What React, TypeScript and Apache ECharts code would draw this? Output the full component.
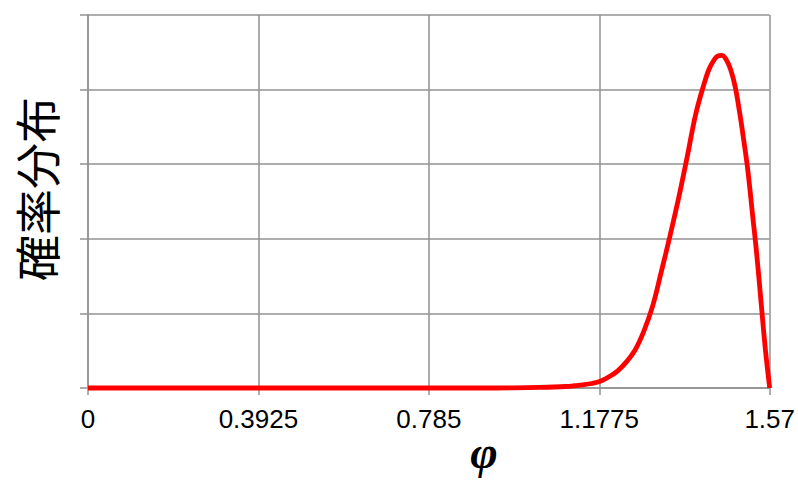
import React, { useEffect, useRef } from "react";
import * as echarts from "echarts";

const xTickLabels = ["0", "0.3925", "0.785", "1.1775", "1.57"];
const phiValues = [
  0, 0.2, 0.4, 0.6, 0.785, 0.9, 0.98, 1.04, 1.1, 1.12, 1.14, 1.16, 1.18, 1.2, 1.22, 1.24,
  1.26, 1.28, 1.3, 1.32, 1.34, 1.36, 1.38, 1.4, 1.42, 1.43, 1.44, 1.45, 1.46, 1.47, 1.48,
  1.49, 1.5, 1.51, 1.52, 1.53, 1.54, 1.55, 1.56, 1.57,
];
const probValues = [
  0, 0, 0, 0, 0, 0.0, 0.002, 0.008, 0.02, 0.03, 0.042, 0.06, 0.09, 0.15, 0.23, 0.35,
  0.51, 0.76, 1.09, 1.55, 2.03, 2.54, 3.1, 3.68, 4.1, 4.27, 4.38, 4.45, 4.46, 4.4, 4.27,
  4.05, 3.72, 3.33, 2.9, 2.35, 1.8, 1.16, 0.52, 0,
];
const yAxisTitle = "確率分布";
const xAxisTitle = "φ";

export default function App() {
  const ref = useRef<HTMLDivElement>(null);
  useEffect(() => {
    if (!ref.current) return;
    const chart = echarts.init(ref.current, null, { renderer: "svg" });
    const gray = "#929292";
    chart.setOption({
      animation: false,
      backgroundColor: "#ffffff",
      grid: { left: 88, right: 27, top: 15, bottom: 94, containLabel: false },
      xAxis: {
        type: "value",
        min: 0,
        max: 1.57,
        interval: 0.3925,
        axisLine: { show: true, onZero: false, lineStyle: { color: gray, width: 1.5 } },
        axisTick: { show: true, length: 7, lineStyle: { color: gray, width: 1.5 } },
        splitLine: { show: true, lineStyle: { color: gray, width: 1.5 } },
        axisLabel: {
          show: true,
          margin: 18,
          showMinLabel: true,
          showMaxLabel: true,
          color: "#000",
          fontSize: 26,
          fontFamily: "Liberation Sans, Arial, sans-serif",
          formatter: (_v: number, i: number) => xTickLabels[i] ?? "",
        },
      },
      yAxis: {
        type: "value",
        min: 0,
        max: 5,
        interval: 1,
        axisLine: { show: true, lineStyle: { color: gray, width: 1.5 } },
        axisTick: { show: true, length: 8, lineStyle: { color: gray, width: 1.5 } },
        splitLine: { show: true, lineStyle: { color: gray, width: 1.5 } },
        axisLabel: { show: false },
      },
      graphic: [
        {
          type: "text",
          x: 35,
          y: 189,
          rotation: Math.PI / 2,
          style: {
            text: yAxisTitle,
            fontSize: 46,
            fontFamily: "Noto Sans CJK JP, sans-serif",
            fill: "#000",
            align: "center",
            verticalAlign: "middle",
          },
        },
        {
          type: "text",
          x: 484,
          y: 452,
          style: {
            text: xAxisTitle,
            fontSize: 47,
            lineHeight: 40,
            fontStyle: "italic",
            fontWeight: "bold",
            fontFamily: "Liberation Serif, Times New Roman, serif",
            fill: "#000",
            align: "center",
            verticalAlign: "middle",
          },
        },
      ],
      series: [
        {
          type: "line",
          data: phiValues.map((x, i) => [x, probValues[i]]),
          smooth: 0.4,
          showSymbol: false,
          lineStyle: { color: "#ff0000", width: 4.8 },
          clip: false,
        },
      ],
    });
    return () => chart.dispose();
  }, []);
  return <div ref={ref} style={{ width: 798, height: 482, position: "absolute", left: 0, top: 0 }} />;
}
